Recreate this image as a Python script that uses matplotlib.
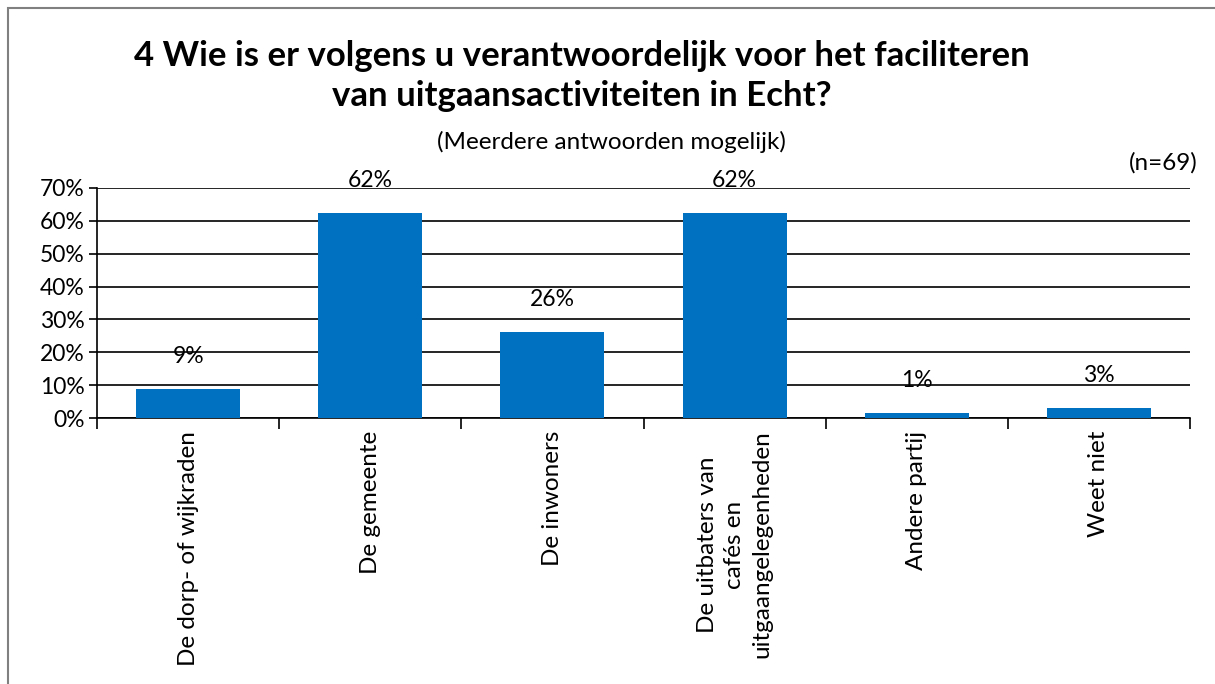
import numpy as np
import matplotlib.pyplot as plt
from matplotlib.patches import Rectangle

categories = ['De dorp- of wijkraden', 'De gemeente', 'De inwoners',
              'De uitbaters van\ncafés en\nuitgaangelegenheden',
              'Andere partij', 'Weet niet']
values = [8.7, 62.3, 26.1, 62.3, 1.4, 2.9]
value_labels = ['9%', '62%', '26%', '62%', '1%', '3%']
y_ticks = [0, 10, 20, 30, 40, 50, 60, 70]

plt.rcParams['font.family'] = ['Lato', 'DejaVu Sans']

fig = plt.figure(figsize=(12.15, 6.84), dpi=100)
ax = fig.add_axes([97 / 1215, 1 - 418 / 684, (1190 - 97) / 1215, (418 - 188) / 684])

x = np.arange(len(categories))
ax.bar(x, values, width=0.57, color='#0070C0', zorder=3)
for xi, v, lab in zip(x, values, value_labels):
    ax.annotate(lab, (xi, v), xytext=(0, 16), textcoords='offset points',
                ha='center', va='bottom', fontsize=16.5)

ax.set_xlim(-0.5, len(categories) - 0.5)
ax.set_ylim(0, 70)
ax.set_yticks(y_ticks)
ax.set_yticklabels([f'{t}%' for t in y_ticks], fontsize=16.5)
ax.yaxis.grid(True, color='black', linewidth=1.2, zorder=0)
ax.tick_params(axis='y', length=6, width=1.2, color='black', pad=3)

# category boundaries as ticks, labels as rotated text
ax.set_xticks(np.arange(len(categories) + 1) - 0.5)
ax.set_xticklabels([])
ax.tick_params(axis='x', length=8, width=1.2, color='black')
for xi, cat in zip(x, categories):
    ax.text(xi, -0.055, cat, transform=ax.get_xaxis_transform(),
            rotation=90, ha='center', va='top', multialignment='center',
            fontsize=17.5, linespacing=1.35)

for side in ['top', 'right']:
    ax.spines[side].set_visible(False)
for side in ['left', 'bottom']:
    ax.spines[side].set_linewidth(1.2)
    ax.spines[side].set_color('black')

fig.text(0.479, 1 - 56 / 684, '4 Wie is er volgens u verantwoordelijk voor het faciliteren',
         ha='center', va='center', fontsize=25, fontweight='bold')
fig.text(0.479, 1 - 96 / 684, 'van uitgaansactiviteiten in Echt?',
         ha='center', va='center', fontsize=25, fontweight='bold')
fig.text(0.503, 1 - 142 / 684, '(Meerdere antwoorden mogelijk)',
         ha='center', va='center', fontsize=17.5)
fig.text(1198 / 1215, 1 - 163 / 684, '(n=69)', ha='right', va='center', fontsize=17.5)

fig.patches.append(Rectangle((8 / 1215, -0.01), 1.0, 1 - 8 / 684 + 0.01,
                             transform=fig.transFigure, fill=False,
                             edgecolor='#808080', linewidth=1.5))

fig.savefig('out.png', dpi=100)
